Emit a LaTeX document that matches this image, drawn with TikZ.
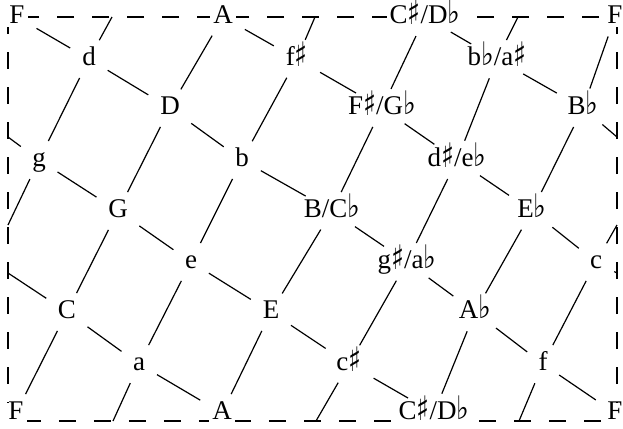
\documentclass[tikz,border=0pt]{standalone}
\usepackage{fontspec}
\setmainfont{Liberation Serif}
\newfontfamily\musicfont{DejaVu Sans}
\newcommand{\shrp}{\raisebox{-0.1ex}{\scalebox{1}[1.25]{\musicfont ♯}}}
\newcommand{\flt}{\scalebox{1}[1.2]{\musicfont ♭}}

\begin{document}
\begin{tikzpicture}[x=0.5pt,y=-0.5pt,
  chord/.style={fill=white,inner sep=1.5pt,text height=0.66em,text depth=0pt,font=\fontsize{13.5}{15}\selectfont},
  link/.style={line width=0.6pt,shorten <=5pt,shorten >=5pt},
  rim/.style={line width=0.6pt,dash pattern=on 8.5pt off 9pt}]
\useasboundingbox (0,0) rectangle (623,429);
% the torus cut open
\draw[rim] (8,17) rectangle (617,421);
% chords
\foreach \n/\x/\y/\t in {F1/17/17/F, A1/223/17/A, Cs1/425/17/{C\shrp/D\flt}, F2/615/17/F,
  d/89/59/d, fs/297/59/{f\shrp}, bb/497/59/{b\flt/a\shrp},
  D/170/108/D, Fs/382/108/{F\shrp/G\flt}, Bb/583/108/{B\flt},
  g/39/160/g, b/242/160/b, ds/457/160/{d\shrp/e\flt},
  G/118/211/G, B/332/211/{B/C\flt}, Eb/532/211/{E\flt},
  e/191/262/e, gs/407/262/{g\shrp/a\flt}, c/596/262/c,
  C/67/312/C, E/271/312/E, Ab/475/312/{A\flt},
  a/139/364/a, cs/349/364/{c\shrp}, f/543/364/f,
  F3/16/413/F, A2/222/413/A, Cs2/434/413/{C\shrp/D\flt}, F4/615/413/F}
  \node[chord] (\n) at (\x,\y) {\t};
% where the lattice leaves the frame
\foreach \n/\x/\y in {lC/8/273, lg/8/137, lgd/8/225, td/112/17, tfs/315/17, tbb/518/17,
  ba/113/421, bcs/316/421, bf/519/421, rc/617/273, rBb/617/137, rcu/617/225}
  \coordinate (\n) at (\x,\y);
% falling lines
\foreach \p/\q in {F1/d, d/D, D/b, b/B, B/gs, gs/Ab, Ab/f, f/F4,
  A1/fs, fs/Fs, Fs/ds, ds/Eb, Eb/c, Cs1/bb, bb/Bb,
  g/G, G/e, e/E, E/cs, cs/Cs2, C/a, a/A2}
  \draw[link] (\p)--(\q);
% rising lines
\foreach \p/\q in {F3/C, C/G, G/D, D/A1, a/e, e/b, b/fs, A2/E, E/B, B/Fs, Fs/Cs1,
  cs/gs, gs/ds, ds/bb, Cs2/Ab, Ab/Eb, Eb/Bb, Bb/F2, f/c, g/d}
  \draw[link] (\p)--(\q);
% stubs to the frame
\foreach \p/\q in {C/lC, g/lg, g/lgd, d/td, fs/tfs, bb/tbb, a/ba, cs/bcs, f/bf, c/rc, Bb/rBb, c/rcu}
  \draw[link,shorten >=0pt] (\p)--(\q);
\end{tikzpicture}
\end{document}
